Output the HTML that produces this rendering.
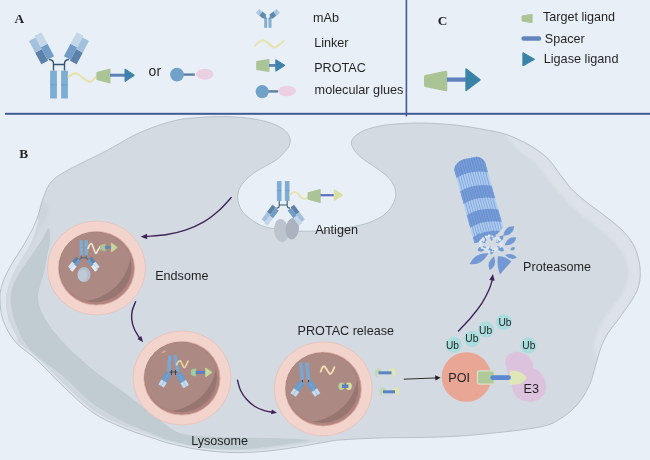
<!DOCTYPE html>
<html lang="en"><head><meta charset="utf-8"><title>Antibody-PROTAC conjugate mechanism</title>
<style>html,body{margin:0;padding:0;background:#e9eff6;}body{width:650px;height:460px;overflow:hidden;}svg{display:block;}</style></head>
<body>
<svg width="650" height="460" viewBox="0 0 650 460">
<defs>
<filter id="soft" x="-5%" y="-5%" width="110%" height="110%"><feGaussianBlur stdDeviation="0.45"/></filter>
<filter id="soft2" x="-10%" y="-10%" width="120%" height="120%"><feGaussianBlur stdDeviation="0.7"/></filter>
<filter id="blur3" x="-10%" y="-10%" width="120%" height="120%"><feGaussianBlur stdDeviation="2.2"/></filter>
<filter id="gsoft" filterUnits="userSpaceOnUse" x="-5" y="-5" width="660" height="470"><feGaussianBlur stdDeviation="0.38"/></filter>
</defs>
<rect width="650" height="460" fill="#e9eff6"/>
<g filter="url(#gsoft)">
<clipPath id="cellclip"><path d="M0.0 300.0 C-0.2 294.2 0.3 290.5 2.0 285.0 C3.7 279.5 6.0 274.3 10.0 267.0 C14.0 259.7 21.6 248.8 26.0 241.0 C30.4 233.2 33.6 227.3 36.5 220.0 C39.4 212.7 40.9 203.5 43.5 197.0 C46.1 190.5 47.6 185.7 52.0 181.0 C56.4 176.3 61.3 173.8 70.0 169.0 C78.7 164.2 92.5 158.0 104.0 152.0 C115.5 146.0 127.5 138.2 139.0 133.0 C150.5 127.8 163.2 123.6 173.0 121.0 C182.8 118.4 190.2 118.3 198.0 117.6 C205.8 116.9 213.0 116.6 220.0 116.6 C227.0 116.5 234.3 116.9 240.0 117.3 C245.7 117.7 249.7 118.3 254.0 119.0 C258.3 119.7 262.2 120.5 266.0 121.6 C269.8 122.7 273.8 123.9 277.0 125.4 C280.2 126.9 282.9 128.6 285.0 130.5 C287.1 132.4 288.8 135.0 289.6 137.0 C290.4 139.0 290.4 140.5 290.0 142.5 C289.6 144.5 289.6 146.0 287.2 148.9 C284.8 151.8 281.1 156.4 275.9 160.2 C270.7 164.0 261.6 167.5 256.0 171.5 C250.3 175.5 245.1 180.1 242.0 184.3 C238.9 188.6 237.7 192.6 237.7 197.0 C237.7 201.4 239.4 207.0 242.0 211.0 C244.6 215.0 249.5 218.4 253.3 221.0 C257.1 223.6 260.2 225.3 264.6 226.7 C269.1 228.1 274.3 228.8 280.0 229.6 C285.7 230.3 292.1 231.0 299.0 231.2 C305.9 231.4 314.9 231.1 321.4 230.8 C327.9 230.5 332.8 230.1 338.0 229.4 C343.2 228.7 347.3 227.9 352.6 226.7 C357.9 225.5 364.2 224.5 369.6 222.4 C375.0 220.3 381.0 217.3 385.0 214.0 C389.0 210.7 391.8 206.4 393.6 202.6 C395.4 198.8 396.3 195.3 395.6 191.3 C394.9 187.3 392.8 182.6 389.4 178.6 C386.0 174.6 379.9 170.8 375.2 167.3 C370.5 163.8 364.8 160.7 361.0 157.4 C357.2 154.1 354.0 150.6 352.6 147.5 C351.2 144.4 350.7 141.8 352.6 139.0 C354.5 136.2 358.4 132.8 364.0 130.5 C369.6 128.2 377.2 126.2 386.5 124.9 C395.8 123.7 408.6 123.0 420.0 123.0 C431.4 123.0 444.3 123.9 455.0 125.0 C465.7 126.1 475.7 128.0 484.0 129.5 C492.3 131.0 498.8 132.1 505.0 134.0 C511.2 135.9 516.5 138.6 521.0 140.7 C525.5 142.8 528.5 144.5 532.0 146.6 C535.5 148.7 538.9 151.1 541.8 153.4 C544.7 155.7 547.0 157.3 549.6 160.2 C552.2 163.1 554.8 167.2 557.4 170.7 C560.0 174.2 562.5 177.6 565.3 181.1 C568.1 184.6 570.0 187.7 574.0 191.5 C578.0 195.3 583.6 199.8 589.0 204.0 C594.4 208.2 600.7 212.3 606.5 217.0 C612.3 221.7 619.3 226.9 624.0 232.0 C628.7 237.1 632.1 241.6 634.8 247.4 C637.5 253.2 639.3 260.8 640.0 267.0 C640.7 273.2 640.3 279.4 639.0 284.8 C637.7 290.2 635.6 294.0 632.3 299.5 C629.0 305.0 623.4 312.4 619.4 318.0 C615.4 323.6 611.4 327.9 608.3 332.8 C605.2 337.7 603.1 342.0 601.0 347.5 C598.9 353.0 597.3 359.9 595.4 366.0 C593.5 372.1 592.6 378.2 589.8 384.4 C587.0 390.5 583.4 397.3 578.8 402.9 C574.2 408.4 568.5 413.7 562.0 417.7 C555.5 421.7 553.0 424.3 540.0 427.0 C527.0 429.7 500.7 432.3 484.0 434.0 C467.3 435.7 457.3 436.3 440.0 437.0 C422.7 437.7 396.7 437.5 380.0 438.0 C363.3 438.5 349.2 439.3 340.0 440.0 C330.8 440.7 332.3 441.1 324.6 442.3 C316.9 443.6 304.3 446.0 294.0 447.5 C283.7 449.0 273.3 450.7 263.0 451.5 C252.7 452.3 242.2 452.8 232.0 452.5 C221.8 452.2 211.7 451.4 201.5 450.0 C191.3 448.6 178.9 445.7 171.0 443.8 C163.1 441.9 162.0 441.2 154.0 438.5 C146.0 435.8 133.3 432.1 123.0 427.7 C112.7 423.3 102.2 419.2 92.0 412.0 C81.8 404.8 70.7 393.3 61.5 384.6 C52.3 375.9 44.8 367.2 37.0 360.0 C29.2 352.8 20.7 348.2 15.0 341.5 C9.3 334.8 5.5 326.9 3.0 320.0 C0.5 313.1 0.2 305.8 0.0 300.0Z"/></clipPath>
<path d="M0.0 300.0 C-0.2 294.2 0.3 290.5 2.0 285.0 C3.7 279.5 6.0 274.3 10.0 267.0 C14.0 259.7 21.6 248.8 26.0 241.0 C30.4 233.2 33.6 227.3 36.5 220.0 C39.4 212.7 40.9 203.5 43.5 197.0 C46.1 190.5 47.6 185.7 52.0 181.0 C56.4 176.3 61.3 173.8 70.0 169.0 C78.7 164.2 92.5 158.0 104.0 152.0 C115.5 146.0 127.5 138.2 139.0 133.0 C150.5 127.8 163.2 123.6 173.0 121.0 C182.8 118.4 190.2 118.3 198.0 117.6 C205.8 116.9 213.0 116.6 220.0 116.6 C227.0 116.5 234.3 116.9 240.0 117.3 C245.7 117.7 249.7 118.3 254.0 119.0 C258.3 119.7 262.2 120.5 266.0 121.6 C269.8 122.7 273.8 123.9 277.0 125.4 C280.2 126.9 282.9 128.6 285.0 130.5 C287.1 132.4 288.8 135.0 289.6 137.0 C290.4 139.0 290.4 140.5 290.0 142.5 C289.6 144.5 289.6 146.0 287.2 148.9 C284.8 151.8 281.1 156.4 275.9 160.2 C270.7 164.0 261.6 167.5 256.0 171.5 C250.3 175.5 245.1 180.1 242.0 184.3 C238.9 188.6 237.7 192.6 237.7 197.0 C237.7 201.4 239.4 207.0 242.0 211.0 C244.6 215.0 249.5 218.4 253.3 221.0 C257.1 223.6 260.2 225.3 264.6 226.7 C269.1 228.1 274.3 228.8 280.0 229.6 C285.7 230.3 292.1 231.0 299.0 231.2 C305.9 231.4 314.9 231.1 321.4 230.8 C327.9 230.5 332.8 230.1 338.0 229.4 C343.2 228.7 347.3 227.9 352.6 226.7 C357.9 225.5 364.2 224.5 369.6 222.4 C375.0 220.3 381.0 217.3 385.0 214.0 C389.0 210.7 391.8 206.4 393.6 202.6 C395.4 198.8 396.3 195.3 395.6 191.3 C394.9 187.3 392.8 182.6 389.4 178.6 C386.0 174.6 379.9 170.8 375.2 167.3 C370.5 163.8 364.8 160.7 361.0 157.4 C357.2 154.1 354.0 150.6 352.6 147.5 C351.2 144.4 350.7 141.8 352.6 139.0 C354.5 136.2 358.4 132.8 364.0 130.5 C369.6 128.2 377.2 126.2 386.5 124.9 C395.8 123.7 408.6 123.0 420.0 123.0 C431.4 123.0 444.3 123.9 455.0 125.0 C465.7 126.1 475.7 128.0 484.0 129.5 C492.3 131.0 498.8 132.1 505.0 134.0 C511.2 135.9 516.5 138.6 521.0 140.7 C525.5 142.8 528.5 144.5 532.0 146.6 C535.5 148.7 538.9 151.1 541.8 153.4 C544.7 155.7 547.0 157.3 549.6 160.2 C552.2 163.1 554.8 167.2 557.4 170.7 C560.0 174.2 562.5 177.6 565.3 181.1 C568.1 184.6 570.0 187.7 574.0 191.5 C578.0 195.3 583.6 199.8 589.0 204.0 C594.4 208.2 600.7 212.3 606.5 217.0 C612.3 221.7 619.3 226.9 624.0 232.0 C628.7 237.1 632.1 241.6 634.8 247.4 C637.5 253.2 639.3 260.8 640.0 267.0 C640.7 273.2 640.3 279.4 639.0 284.8 C637.7 290.2 635.6 294.0 632.3 299.5 C629.0 305.0 623.4 312.4 619.4 318.0 C615.4 323.6 611.4 327.9 608.3 332.8 C605.2 337.7 603.1 342.0 601.0 347.5 C598.9 353.0 597.3 359.9 595.4 366.0 C593.5 372.1 592.6 378.2 589.8 384.4 C587.0 390.5 583.4 397.3 578.8 402.9 C574.2 408.4 568.5 413.7 562.0 417.7 C555.5 421.7 553.0 424.3 540.0 427.0 C527.0 429.7 500.7 432.3 484.0 434.0 C467.3 435.7 457.3 436.3 440.0 437.0 C422.7 437.7 396.7 437.5 380.0 438.0 C363.3 438.5 349.2 439.3 340.0 440.0 C330.8 440.7 332.3 441.1 324.6 442.3 C316.9 443.6 304.3 446.0 294.0 447.5 C283.7 449.0 273.3 450.7 263.0 451.5 C252.7 452.3 242.2 452.8 232.0 452.5 C221.8 452.2 211.7 451.4 201.5 450.0 C191.3 448.6 178.9 445.7 171.0 443.8 C163.1 441.9 162.0 441.2 154.0 438.5 C146.0 435.8 133.3 432.1 123.0 427.7 C112.7 423.3 102.2 419.2 92.0 412.0 C81.8 404.8 70.7 393.3 61.5 384.6 C52.3 375.9 44.8 367.2 37.0 360.0 C29.2 352.8 20.7 348.2 15.0 341.5 C9.3 334.8 5.5 326.9 3.0 320.0 C0.5 313.1 0.2 305.8 0.0 300.0Z" fill="#d3dae1"/>
<g clip-path="url(#cellclip)">
<clipPath id="bandclip"><path d="M46.0 205.0 C53.7 210.8 41.3 223.8 36.0 235.0 C30.7 246.2 19.0 261.2 14.0 272.0 C9.0 282.8 6.3 291.7 6.0 300.0 C5.7 308.3 7.8 313.5 12.0 322.0 C16.2 330.5 22.8 341.8 31.0 351.0 C39.2 360.2 51.3 368.2 61.5 377.0 C71.7 385.8 81.8 396.4 92.0 404.0 C102.2 411.6 112.7 417.3 123.0 422.5 C133.3 427.7 141.2 431.4 154.0 435.0 C166.8 438.6 182.3 441.7 200.0 444.0 C217.7 446.3 241.3 449.5 260.0 449.0 C278.7 448.5 298.7 437.5 312.0 441.0 C325.3 444.5 393.7 465.2 340.0 470.0 C286.3 474.8 48.3 515.0 -10.0 470.0 C-68.3 425.0 -19.3 244.2 -10.0 200.0 C-0.7 155.8 38.3 199.2 46.0 205.0Z"/></clipPath>
<path d="M46.0 205.0 C53.7 210.8 41.3 223.8 36.0 235.0 C30.7 246.2 19.0 261.2 14.0 272.0 C9.0 282.8 6.3 291.7 6.0 300.0 C5.7 308.3 7.8 313.5 12.0 322.0 C16.2 330.5 22.8 341.8 31.0 351.0 C39.2 360.2 51.3 368.2 61.5 377.0 C71.7 385.8 81.8 396.4 92.0 404.0 C102.2 411.6 112.7 417.3 123.0 422.5 C133.3 427.7 141.2 431.4 154.0 435.0 C166.8 438.6 182.3 441.7 200.0 444.0 C217.7 446.3 241.3 449.5 260.0 449.0 C278.7 448.5 298.7 437.5 312.0 441.0 C325.3 444.5 393.7 465.2 340.0 470.0 C286.3 474.8 48.3 515.0 -10.0 470.0 C-68.3 425.0 -19.3 244.2 -10.0 200.0 C-0.7 155.8 38.3 199.2 46.0 205.0Z" fill="#cdd5dc" filter="url(#blur3)"/>
<clipPath id="rimB"><path d="M-5 338 H30 V470 H-5 Z M30 300 H400 V470 H30 Z"/></clipPath>
<g clip-path="url(#bandclip)"><path d="M38.0 217.0 C37.8 216.3 38.5 216.0 36.5 220.0 C34.5 224.0 30.4 233.2 26.0 241.0 C21.6 248.8 14.0 259.7 10.0 267.0 C6.0 274.3 4.0 279.5 2.0 285.0 C0.0 290.5 -1.8 294.2 -2.0 300.0 C-2.2 305.8 -1.5 312.8 1.0 320.0 C3.5 327.2 10.2 339.8 13.0 343.0 C15.8 346.2 18.2 343.0 17.5 339.0 C16.8 335.0 10.4 325.5 8.5 319.0 C6.6 312.5 6.0 305.5 6.0 300.0 C6.0 294.5 6.8 291.2 8.5 286.0 C10.2 280.8 12.3 276.0 16.0 269.0 C19.7 262.0 26.9 251.5 30.5 244.0 C34.1 236.5 36.2 228.5 37.5 224.0 C38.8 219.5 38.2 217.7 38.0 217.0Z" fill="#dfe5ec" filter="url(#soft2)"/><g clip-path="url(#rimB)"><path d="M0.0 300.0 C-0.2 294.2 0.3 290.5 2.0 285.0 C3.7 279.5 6.0 274.3 10.0 267.0 C14.0 259.7 21.6 248.8 26.0 241.0 C30.4 233.2 33.6 227.3 36.5 220.0 C39.4 212.7 40.9 203.5 43.5 197.0 C46.1 190.5 47.6 185.7 52.0 181.0 C56.4 176.3 61.3 173.8 70.0 169.0 C78.7 164.2 92.5 158.0 104.0 152.0 C115.5 146.0 127.5 138.2 139.0 133.0 C150.5 127.8 163.2 123.6 173.0 121.0 C182.8 118.4 190.2 118.3 198.0 117.6 C205.8 116.9 213.0 116.6 220.0 116.6 C227.0 116.5 234.3 116.9 240.0 117.3 C245.7 117.7 249.7 118.3 254.0 119.0 C258.3 119.7 262.2 120.5 266.0 121.6 C269.8 122.7 273.8 123.9 277.0 125.4 C280.2 126.9 282.9 128.6 285.0 130.5 C287.1 132.4 288.8 135.0 289.6 137.0 C290.4 139.0 290.4 140.5 290.0 142.5 C289.6 144.5 289.6 146.0 287.2 148.9 C284.8 151.8 281.1 156.4 275.9 160.2 C270.7 164.0 261.6 167.5 256.0 171.5 C250.3 175.5 245.1 180.1 242.0 184.3 C238.9 188.6 237.7 192.6 237.7 197.0 C237.7 201.4 239.4 207.0 242.0 211.0 C244.6 215.0 249.5 218.4 253.3 221.0 C257.1 223.6 260.2 225.3 264.6 226.7 C269.1 228.1 274.3 228.8 280.0 229.6 C285.7 230.3 292.1 231.0 299.0 231.2 C305.9 231.4 314.9 231.1 321.4 230.8 C327.9 230.5 332.8 230.1 338.0 229.4 C343.2 228.7 347.3 227.9 352.6 226.7 C357.9 225.5 364.2 224.5 369.6 222.4 C375.0 220.3 381.0 217.3 385.0 214.0 C389.0 210.7 391.8 206.4 393.6 202.6 C395.4 198.8 396.3 195.3 395.6 191.3 C394.9 187.3 392.8 182.6 389.4 178.6 C386.0 174.6 379.9 170.8 375.2 167.3 C370.5 163.8 364.8 160.7 361.0 157.4 C357.2 154.1 354.0 150.6 352.6 147.5 C351.2 144.4 350.7 141.8 352.6 139.0 C354.5 136.2 358.4 132.8 364.0 130.5 C369.6 128.2 377.2 126.2 386.5 124.9 C395.8 123.7 408.6 123.0 420.0 123.0 C431.4 123.0 444.3 123.9 455.0 125.0 C465.7 126.1 475.7 128.0 484.0 129.5 C492.3 131.0 498.8 132.1 505.0 134.0 C511.2 135.9 516.5 138.6 521.0 140.7 C525.5 142.8 528.5 144.5 532.0 146.6 C535.5 148.7 538.9 151.1 541.8 153.4 C544.7 155.7 547.0 157.3 549.6 160.2 C552.2 163.1 554.8 167.2 557.4 170.7 C560.0 174.2 562.5 177.6 565.3 181.1 C568.1 184.6 570.0 187.7 574.0 191.5 C578.0 195.3 583.6 199.8 589.0 204.0 C594.4 208.2 600.7 212.3 606.5 217.0 C612.3 221.7 619.3 226.9 624.0 232.0 C628.7 237.1 632.1 241.6 634.8 247.4 C637.5 253.2 639.3 260.8 640.0 267.0 C640.7 273.2 640.3 279.4 639.0 284.8 C637.7 290.2 635.6 294.0 632.3 299.5 C629.0 305.0 623.4 312.4 619.4 318.0 C615.4 323.6 611.4 327.9 608.3 332.8 C605.2 337.7 603.1 342.0 601.0 347.5 C598.9 353.0 597.3 359.9 595.4 366.0 C593.5 372.1 592.6 378.2 589.8 384.4 C587.0 390.5 583.4 397.3 578.8 402.9 C574.2 408.4 568.5 413.7 562.0 417.7 C555.5 421.7 553.0 424.3 540.0 427.0 C527.0 429.7 500.7 432.3 484.0 434.0 C467.3 435.7 457.3 436.3 440.0 437.0 C422.7 437.7 396.7 437.5 380.0 438.0 C363.3 438.5 349.2 439.3 340.0 440.0 C330.8 440.7 332.3 441.1 324.6 442.3 C316.9 443.6 304.3 446.0 294.0 447.5 C283.7 449.0 273.3 450.7 263.0 451.5 C252.7 452.3 242.2 452.8 232.0 452.5 C221.8 452.2 211.7 451.4 201.5 450.0 C191.3 448.6 178.9 445.7 171.0 443.8 C163.1 441.9 162.0 441.2 154.0 438.5 C146.0 435.8 133.3 432.1 123.0 427.7 C112.7 423.3 102.2 419.2 92.0 412.0 C81.8 404.8 70.7 393.3 61.5 384.6 C52.3 375.9 44.8 367.2 37.0 360.0 C29.2 352.8 20.7 348.2 15.0 341.5 C9.3 334.8 5.5 326.9 3.0 320.0 C0.5 313.1 0.2 305.8 0.0 300.0Z" fill="none" stroke="#dce2e9" stroke-width="4.4" filter="url(#soft)"/></g></g>
<path d="M48.5 228.0 C47.5 227.3 46.0 232.7 44.0 236.0 C42.0 239.3 41.0 241.2 36.5 248.0 C32.0 254.8 21.3 268.7 17.0 277.0 C12.7 285.3 10.7 290.2 10.5 298.0 C10.3 305.8 12.3 315.2 15.7 324.0 C19.1 332.8 23.4 342.5 31.0 351.0 C38.6 359.5 51.3 366.3 61.5 375.0 C71.7 383.7 81.8 395.2 92.0 403.0 C102.2 410.8 112.7 416.2 123.0 421.5 C133.3 426.8 146.0 431.3 154.0 434.5 C162.0 437.7 163.1 438.6 171.0 440.8 C178.9 443.0 191.3 446.1 201.5 447.5 C211.7 448.9 221.8 449.4 232.0 449.4 C242.2 449.4 252.7 448.6 263.0 447.5 C273.3 446.4 286.4 444.2 294.0 443.0 C301.6 441.8 311.1 440.8 308.5 440.0 C305.9 439.2 288.6 438.7 278.5 438.3 C268.4 437.9 257.9 437.9 247.7 437.7 C237.4 437.5 227.3 437.5 217.0 437.0 C206.7 436.5 193.7 436.0 186.0 434.6 C178.3 433.2 176.3 431.7 171.0 428.5 C165.7 425.3 162.0 421.7 154.0 415.5 C146.0 409.3 133.3 399.2 123.0 391.5 C112.7 383.8 102.0 377.2 92.0 369.0 C82.0 360.8 70.7 350.2 63.0 342.0 C55.3 333.8 50.2 327.3 46.0 320.0 C41.8 312.7 38.3 306.0 38.0 298.0 C37.7 290.0 42.0 281.7 44.0 272.0 C46.0 262.3 49.2 247.3 50.0 240.0 C50.8 232.7 49.5 228.7 48.5 228.0Z" fill="#c0cbd2" filter="url(#soft)"/>
<filter id="blur2" x="-10%" y="-10%" width="120%" height="120%"><feGaussianBlur stdDeviation="1.4"/></filter>
<path d="M505.0 134.0 C505.8 132.8 516.5 138.6 521.0 140.7 C525.5 142.8 528.5 144.5 532.0 146.6 C535.5 148.7 538.9 151.1 541.8 153.4 C544.7 155.7 547.0 157.3 549.6 160.2 C552.2 163.1 554.8 167.2 557.4 170.7 C560.0 174.2 562.5 177.6 565.3 181.1 C568.1 184.6 570.0 187.7 574.0 191.5 C578.0 195.3 583.6 199.8 589.0 204.0 C594.4 208.2 600.7 212.3 606.5 217.0 C612.3 221.7 619.3 226.9 624.0 232.0 C628.7 237.1 632.1 241.6 634.8 247.4 C637.5 253.2 639.3 260.8 640.0 267.0 C640.7 273.2 640.3 279.4 639.0 284.8 C637.7 290.2 635.6 294.0 632.3 299.5 C629.0 305.0 623.4 312.4 619.4 318.0 C615.4 323.6 611.4 327.9 608.3 332.8 C605.2 337.7 602.9 343.0 601.0 347.5 C599.1 352.0 598.2 360.4 597.0 360.0 C595.8 359.6 593.7 350.3 594.0 345.0 C594.3 339.7 596.5 333.5 599.0 328.0 C601.5 322.5 605.3 317.5 609.0 312.0 C612.7 306.5 618.0 300.0 621.0 295.0 C624.0 290.0 625.8 286.5 627.0 282.0 C628.2 277.5 628.7 272.7 628.0 268.0 C627.3 263.3 625.5 258.5 623.0 254.0 C620.5 249.5 617.3 245.5 613.0 241.0 C608.7 236.5 602.5 231.5 597.0 227.0 C591.5 222.5 585.2 218.3 580.0 214.0 C574.8 209.7 570.7 206.0 566.0 201.0 C561.3 196.0 557.0 190.2 552.0 184.0 C547.0 177.8 542.0 170.0 536.0 164.0 C530.0 158.0 521.2 153.0 516.0 148.0 C510.8 143.0 504.2 135.2 505.0 134.0Z" fill="#dde3e9" filter="url(#blur2)" opacity="0.85"/>
</g>
<path d="M0.0 300.0 C-0.2 294.2 0.3 290.5 2.0 285.0 C3.7 279.5 6.0 274.3 10.0 267.0 C14.0 259.7 21.6 248.8 26.0 241.0 C30.4 233.2 33.6 227.3 36.5 220.0 C39.4 212.7 40.9 203.5 43.5 197.0 C46.1 190.5 47.6 185.7 52.0 181.0 C56.4 176.3 61.3 173.8 70.0 169.0 C78.7 164.2 92.5 158.0 104.0 152.0 C115.5 146.0 127.5 138.2 139.0 133.0 C150.5 127.8 163.2 123.6 173.0 121.0 C182.8 118.4 190.2 118.3 198.0 117.6 C205.8 116.9 213.0 116.6 220.0 116.6 C227.0 116.5 234.3 116.9 240.0 117.3 C245.7 117.7 249.7 118.3 254.0 119.0 C258.3 119.7 262.2 120.5 266.0 121.6 C269.8 122.7 273.8 123.9 277.0 125.4 C280.2 126.9 282.9 128.6 285.0 130.5 C287.1 132.4 288.8 135.0 289.6 137.0 C290.4 139.0 290.4 140.5 290.0 142.5 C289.6 144.5 289.6 146.0 287.2 148.9 C284.8 151.8 281.1 156.4 275.9 160.2 C270.7 164.0 261.6 167.5 256.0 171.5 C250.3 175.5 245.1 180.1 242.0 184.3 C238.9 188.6 237.7 192.6 237.7 197.0 C237.7 201.4 239.4 207.0 242.0 211.0 C244.6 215.0 249.5 218.4 253.3 221.0 C257.1 223.6 260.2 225.3 264.6 226.7 C269.1 228.1 274.3 228.8 280.0 229.6 C285.7 230.3 292.1 231.0 299.0 231.2 C305.9 231.4 314.9 231.1 321.4 230.8 C327.9 230.5 332.8 230.1 338.0 229.4 C343.2 228.7 347.3 227.9 352.6 226.7 C357.9 225.5 364.2 224.5 369.6 222.4 C375.0 220.3 381.0 217.3 385.0 214.0 C389.0 210.7 391.8 206.4 393.6 202.6 C395.4 198.8 396.3 195.3 395.6 191.3 C394.9 187.3 392.8 182.6 389.4 178.6 C386.0 174.6 379.9 170.8 375.2 167.3 C370.5 163.8 364.8 160.7 361.0 157.4 C357.2 154.1 354.0 150.6 352.6 147.5 C351.2 144.4 350.7 141.8 352.6 139.0 C354.5 136.2 358.4 132.8 364.0 130.5 C369.6 128.2 377.2 126.2 386.5 124.9 C395.8 123.7 408.6 123.0 420.0 123.0 C431.4 123.0 444.3 123.9 455.0 125.0 C465.7 126.1 475.7 128.0 484.0 129.5 C492.3 131.0 498.8 132.1 505.0 134.0 C511.2 135.9 516.5 138.6 521.0 140.7 C525.5 142.8 528.5 144.5 532.0 146.6 C535.5 148.7 538.9 151.1 541.8 153.4 C544.7 155.7 547.0 157.3 549.6 160.2 C552.2 163.1 554.8 167.2 557.4 170.7 C560.0 174.2 562.5 177.6 565.3 181.1 C568.1 184.6 570.0 187.7 574.0 191.5 C578.0 195.3 583.6 199.8 589.0 204.0 C594.4 208.2 600.7 212.3 606.5 217.0 C612.3 221.7 619.3 226.9 624.0 232.0 C628.7 237.1 632.1 241.6 634.8 247.4 C637.5 253.2 639.3 260.8 640.0 267.0 C640.7 273.2 640.3 279.4 639.0 284.8 C637.7 290.2 635.6 294.0 632.3 299.5 C629.0 305.0 623.4 312.4 619.4 318.0 C615.4 323.6 611.4 327.9 608.3 332.8 C605.2 337.7 603.1 342.0 601.0 347.5 C598.9 353.0 597.3 359.9 595.4 366.0 C593.5 372.1 592.6 378.2 589.8 384.4 C587.0 390.5 583.4 397.3 578.8 402.9 C574.2 408.4 568.5 413.7 562.0 417.7 C555.5 421.7 553.0 424.3 540.0 427.0 C527.0 429.7 500.7 432.3 484.0 434.0 C467.3 435.7 457.3 436.3 440.0 437.0 C422.7 437.7 396.7 437.5 380.0 438.0 C363.3 438.5 349.2 439.3 340.0 440.0 C330.8 440.7 332.3 441.1 324.6 442.3 C316.9 443.6 304.3 446.0 294.0 447.5 C283.7 449.0 273.3 450.7 263.0 451.5 C252.7 452.3 242.2 452.8 232.0 452.5 C221.8 452.2 211.7 451.4 201.5 450.0 C191.3 448.6 178.9 445.7 171.0 443.8 C163.1 441.9 162.0 441.2 154.0 438.5 C146.0 435.8 133.3 432.1 123.0 427.7 C112.7 423.3 102.2 419.2 92.0 412.0 C81.8 404.8 70.7 393.3 61.5 384.6 C52.3 375.9 44.8 367.2 37.0 360.0 C29.2 352.8 20.7 348.2 15.0 341.5 C9.3 334.8 5.5 326.9 3.0 320.0 C0.5 313.1 0.2 305.8 0.0 300.0Z" fill="none" stroke="#aeb7c0" stroke-width="0.8"/>
<rect x="5" y="112.8" width="645" height="2.0" fill="#3f5a93"/>
<rect x="405.6" y="0" width="1.6" height="116.4" fill="#3f5a93"/>
<g transform="translate(59.0 70.6) scale(1.000 1.000)" opacity="1.0"><rect x="-8.9" y="0" width="6.8" height="27.9" fill="#7dadd3"/><rect x="-8.9" y="13.9" width="6.8" height="0.8" fill="#6c9cc4"/><rect x="2.1" y="0" width="6.8" height="27.9" fill="#7dadd3"/><rect x="2.1" y="13.9" width="6.8" height="0.8" fill="#6c9cc4"/><path d="M-5.5 0 V-6.8 Q-5.5 -10.9 -10.0 -11.1 M5.5 0 V-6.8 Q5.5 -10.9 10.0 -11.1 M-5.5 -6.1 H5.5" fill="none" stroke="#35566e" stroke-width="1.4"/><g transform="translate(-11.5 -10.8) rotate(-28.0)"><rect x="-7.5" y="-12.1" width="7.5" height="13.2" fill="#5b82aa"/><rect x="0.0" y="-14.1" width="7.5" height="14.1" fill="#6f9cc7"/><rect x="-7.5" y="-25.3" width="7.5" height="13.2" fill="#a3c0dc"/><rect x="0.0" y="-27.3" width="7.5" height="13.2" fill="#c4d7e9"/></g><g transform="translate(11.5 -10.8) rotate(28.0)"><rect x="0.0" y="-12.1" width="7.5" height="13.2" fill="#5b82aa"/><rect x="-7.5" y="-14.1" width="7.5" height="14.1" fill="#6f9cc7"/><rect x="0.0" y="-25.3" width="7.5" height="13.2" fill="#a3c0dc"/><rect x="-7.5" y="-27.3" width="7.5" height="13.2" fill="#c4d7e9"/></g></g>
<path d="M68.6 77.0 C69.3 76.5 71.6 74.6 73.0 74.0 C74.4 73.4 75.3 72.9 77.0 73.6 C78.7 74.3 80.9 76.6 83.0 78.0 C85.1 79.4 87.7 81.6 89.5 81.8 C91.3 82.0 92.8 80.0 94.0 79.0 C95.2 78.0 96.5 76.3 97.0 75.8" fill="none" stroke="#e7e3b0" stroke-width="2.2" stroke-linecap="round"/>
<path d="M97.0 72.6 L109.9 69.1 L109.9 82.9 L97.0 79.4 Z" fill="#abc496" stroke="#abc496" stroke-width="1.2" stroke-linejoin="round"/>
<path d="M110.0 75.2 H126.0" stroke="#5a84b8" stroke-width="3.0" stroke-linecap="butt" fill="none"/>
<path d="M125.0 69.0 L134.5 75.2 L125.0 81.5 Z" fill="#3c82ab" stroke="#3c82ab" stroke-width="1.0" stroke-linejoin="round"/>
<path d="M180.0 74.6 H194.8" stroke="#5c7fa6" stroke-width="2.4" stroke-linecap="butt" fill="none"/>
<circle cx="177" cy="74.6" r="6.9" fill="#6fa1c9"/>
<ellipse cx="204.8" cy="74.1" rx="8.8" ry="5.4" fill="#ebd0e2"/>
<g filter="url(#soft)"><rect x="264.2" y="17.8" width="3.0" height="10.0" fill="#86adcf"/><rect x="268.5" y="17.8" width="3.0" height="10.0" fill="#86adcf"/><path d="M265.7 18.8 Q265.5 17 263.6 15.8 M270 18.8 Q270.2 17 272.1 15.8" stroke="#6a93b5" stroke-width="2.2" fill="none"/><g transform="translate(261.2 13.9) rotate(-52)"><rect x="-2.6" y="-0.6" width="5.2" height="5.2" fill="#5f8aad"/><rect x="-2.6" y="-4.8" width="5.2" height="4.4" fill="#a9c8e1"/></g><g transform="translate(274.5 13.9) rotate(52)"><rect x="-2.6" y="-0.6" width="5.2" height="5.2" fill="#5f8aad"/><rect x="-2.6" y="-4.8" width="5.2" height="4.4" fill="#a9c8e1"/></g></g>
<path d="M255.0 46.0 C255.7 45.3 257.5 42.9 259.0 42.0 C260.5 41.1 262.3 40.2 264.0 40.5 C265.7 40.8 267.3 42.8 269.0 44.0 C270.7 45.2 272.3 47.3 274.0 47.5 C275.7 47.7 277.4 46.1 279.0 45.0 C280.6 43.9 282.8 41.7 283.5 41.0" fill="none" stroke="#e7e3b0" stroke-width="2.2" stroke-linecap="round"/>
<path d="M256.8 61.5 L268.9 59.5 L268.9 71.3 L256.8 69.3 Z" fill="#abc496" stroke="#abc496" stroke-width="1.2" stroke-linejoin="round"/>
<path d="M269.0 65.4 H277.0" stroke="#5a84b8" stroke-width="2.8" stroke-linecap="butt" fill="none"/>
<path d="M275.8 59.7 L285.0 65.4 L275.8 71.2 Z" fill="#3c82ab" stroke="#3c82ab" stroke-width="1.0" stroke-linejoin="round"/>
<path d="M266.0 91.4 H278.0" stroke="#5c7fa6" stroke-width="2.4" stroke-linecap="butt" fill="none"/>
<circle cx="262.2" cy="91.6" r="6.6" fill="#6fa1c9"/>
<ellipse cx="287" cy="91" rx="9" ry="5.2" fill="#ebd0e2"/>
<path d="M425.6 76.6 L445.7 72.3 L445.7 89.7 L425.6 85.4 Z" fill="#abc496" stroke="#abc496" stroke-width="3.2" stroke-linejoin="round"/>
<path d="M447.0 79.6 H467.0" stroke="#5f82bd" stroke-width="4.3" stroke-linecap="butt" fill="none"/>
<path d="M466.1 69.0 L480.0 79.8 L466.1 90.5 Z" fill="#3a82a8" stroke="#3a82a8" stroke-width="1.5" stroke-linejoin="round"/>
<path d="M522.0 16.0 L532.1 14.2 L532.1 22.8 L522.0 21.0 Z" fill="#abc496" stroke="#abc496" stroke-width="1.0" stroke-linejoin="round"/>
<path d="M523.6 38.5 H539.0" stroke="#6285be" stroke-width="4.5" stroke-linecap="round" fill="none"/>
<path d="M522.9 52.6 L534.6 59.3 L522.9 66.0 Z" fill="#3a82a8" stroke="#3a82a8" stroke-width="1.0" stroke-linejoin="round"/>
<ellipse cx="281.4" cy="230.6" rx="7.3" ry="11.6" fill="#bcc4ce" transform="rotate(-6 281.4 230.6)"/>
<ellipse cx="292.4" cy="228.6" rx="6.6" ry="10.9" fill="#aab3be" transform="rotate(8 292.4 228.6)"/>
<g transform="translate(283.2 201.0) scale(0.750 -0.750)" opacity="1.0"><rect x="-8.4" y="0" width="6.2" height="26.6" fill="#7dadd3"/><rect x="-8.4" y="13.3" width="6.2" height="0.8" fill="#6c9cc4"/><rect x="2.2" y="0" width="6.2" height="26.6" fill="#7dadd3"/><rect x="2.2" y="13.3" width="6.2" height="0.8" fill="#6c9cc4"/><path d="M-5.3 0 V-6.0 Q-5.3 -9.6 -9.0 -9.5 M5.3 0 V-6.0 Q5.3 -9.6 9.0 -9.5 M-5.3 -5.4 H5.3" fill="none" stroke="#35566e" stroke-width="1.4"/><g transform="translate(-10.5 -9.2) rotate(-36.0)"><rect x="-5.7" y="-11.1" width="5.7" height="12.2" fill="#5b82aa"/><rect x="0.0" y="-13.1" width="5.7" height="13.1" fill="#6f9cc7"/><rect x="-5.7" y="-23.3" width="5.7" height="12.2" fill="#a3c0dc"/><rect x="0.0" y="-25.3" width="5.7" height="12.2" fill="#c4d7e9"/></g><g transform="translate(10.5 -9.2) rotate(36.0)"><rect x="0.0" y="-11.1" width="5.7" height="12.2" fill="#5b82aa"/><rect x="-5.7" y="-13.1" width="5.7" height="13.1" fill="#6f9cc7"/><rect x="0.0" y="-23.3" width="5.7" height="12.2" fill="#a3c0dc"/><rect x="-5.7" y="-25.3" width="5.7" height="12.2" fill="#c4d7e9"/></g></g>
<path d="M290.0 194.6 C290.5 194.2 291.9 192.8 293.0 192.5 C294.1 192.2 295.3 191.9 296.5 192.5 C297.7 193.1 298.8 194.9 300.0 196.0 C301.2 197.1 302.4 198.7 303.5 199.0 C304.6 199.3 305.7 198.4 306.5 198.0 C307.3 197.6 308.2 196.6 308.5 196.3" fill="none" stroke="#e7e3b0" stroke-width="1.9" stroke-linecap="round"/>
<path d="M308.2 192.8 L320.1 189.6 L320.1 202.4 L308.2 199.2 Z" fill="#abc496" stroke="#abc496" stroke-width="1.2" stroke-linejoin="round"/>
<path d="M320.5 195.2 H334.0" stroke="#5a6fc0" stroke-width="2.2" stroke-linecap="butt" fill="none"/>
<path d="M334.2 189.5 L343.0 195.0 L334.2 200.5 Z" fill="#d9dda2" stroke="#d9dda2" stroke-width="1.0" stroke-linejoin="round"/>
<ellipse cx="96.5" cy="268.0" rx="49" ry="47" fill="#f2d4cc" stroke="#e6bdb3" stroke-width="0.7"/><clipPath id="e96"><ellipse cx="95.3" cy="267.1" rx="36.3" ry="35.1"/></clipPath><ellipse cx="96.5" cy="268.3" rx="38" ry="36.8" fill="#b3847f" stroke="#d5a79f" stroke-width="0.8"/><ellipse cx="95.3" cy="267.1" rx="36.3" ry="35.1" fill="#ad8983"/><g clip-path="url(#e96)"><rect x="51.5" y="223.0" width="90" height="90" fill="#977672"/><ellipse cx="78.9" cy="251.2" rx="52" ry="50" fill="#ad8983" filter="url(#soft2)"/></g>
<ellipse cx="84" cy="274.5" rx="6.6" ry="7.6" fill="#b3bfce"/>
<ellipse cx="82.5" cy="275.5" rx="4.6" ry="6" fill="#bfcad7"/>
<g transform="translate(83.8 255.6) scale(0.550 -0.550)" opacity="1.0"><rect x="-7.5" y="0" width="6.0" height="28.0" fill="#7dadd3"/><rect x="-7.5" y="14.0" width="6.0" height="0.8" fill="#6c9cc4"/><rect x="1.5" y="0" width="6.0" height="28.0" fill="#7dadd3"/><rect x="1.5" y="14.0" width="6.0" height="0.8" fill="#6c9cc4"/><path d="M-4.5 0 V-4.5 Q-4.5 -7.2 -8.5 -6.5 M4.5 0 V-4.5 Q4.5 -7.2 8.5 -6.5 M-4.5 -4.0 H4.5" fill="none" stroke="#35566e" stroke-width="1.4"/><g transform="translate(-10.0 -6.2) rotate(-38.0)"><rect x="-6.0" y="-10.8" width="6.0" height="12.0" fill="#5b82aa"/><rect x="0.0" y="-12.8" width="6.0" height="12.8" fill="#6f9cc7"/><rect x="-6.0" y="-22.8" width="6.0" height="12.0" fill="#d2e3f2"/><rect x="0.0" y="-24.8" width="6.0" height="12.0" fill="#e0ecf7"/></g><g transform="translate(10.0 -6.2) rotate(38.0)"><rect x="0.0" y="-10.8" width="6.0" height="12.0" fill="#5b82aa"/><rect x="-6.0" y="-12.8" width="6.0" height="12.8" fill="#6f9cc7"/><rect x="0.0" y="-22.8" width="6.0" height="12.0" fill="#d2e3f2"/><rect x="-6.0" y="-24.8" width="6.0" height="12.0" fill="#e0ecf7"/></g></g>
<path d="M88.0 248.6 C88.2 248.0 88.9 245.8 89.5 245.0 C90.1 244.2 90.8 243.0 91.5 243.5 C92.2 244.0 92.8 246.3 93.5 248.0 C94.2 249.7 95.0 253.2 95.8 253.5 C96.5 253.8 97.2 251.2 98.0 250.0 C98.8 248.8 99.9 246.9 100.3 246.3" fill="none" stroke="#f3ecd0" stroke-width="1.5" stroke-linecap="round"/>
<path d="M100.4 245.4 L105.1 243.9 L105.1 251.1 L100.4 249.6 Z" fill="#abc496" stroke="#abc496" stroke-width="0.8" stroke-linejoin="round"/>
<path d="M105.0 247.5 H111.0" stroke="#5d86c4" stroke-width="2.6" stroke-linecap="butt" fill="none"/>
<path d="M111.4 242.9 L117.2 247.5 L111.4 252.1 Z" fill="#c9d79a" stroke="#c9d79a" stroke-width="0.8" stroke-linejoin="round"/>
<ellipse cx="182.0" cy="378.0" rx="49" ry="47" fill="#f2d4cc" stroke="#e6bdb3" stroke-width="0.7"/><clipPath id="e182"><ellipse cx="180.8" cy="377.1" rx="36.3" ry="35.1"/></clipPath><ellipse cx="182.0" cy="378.3" rx="38" ry="36.8" fill="#b3847f" stroke="#d5a79f" stroke-width="0.8"/><ellipse cx="180.8" cy="377.1" rx="36.3" ry="35.1" fill="#ad8983"/><g clip-path="url(#e182)"><rect x="137.0" y="333.0" width="90" height="90" fill="#977672"/><ellipse cx="164.4" cy="361.2" rx="52" ry="50" fill="#ad8983" filter="url(#soft2)"/></g>
<ellipse cx="323.3" cy="388.8" rx="49" ry="47" fill="#f2d4cc" stroke="#e6bdb3" stroke-width="0.7"/><clipPath id="e323"><ellipse cx="322.1" cy="387.9" rx="36.3" ry="35.1"/></clipPath><ellipse cx="323.3" cy="389.1" rx="38" ry="36.8" fill="#b3847f" stroke="#d5a79f" stroke-width="0.8"/><ellipse cx="322.1" cy="387.9" rx="36.3" ry="35.1" fill="#ad8983"/><g clip-path="url(#e323)"><rect x="278.3" y="343.8" width="90" height="90" fill="#977672"/><ellipse cx="305.7" cy="372.0" rx="52" ry="50" fill="#ad8983" filter="url(#soft2)"/></g>
<path d="M169.8 355.7 C169.7 357.1 169.4 361.2 169.3 364.0 C169.2 366.8 169.1 371.0 169.0 372.4" fill="none" stroke="#78a7d4" stroke-width="3.4" stroke-linecap="butt" stroke-linejoin="round"/>
<path d="M175.0 355.0 C175.2 356.5 176.0 361.1 176.5 364.0 C177.0 366.9 177.8 371.0 178.0 372.4" fill="none" stroke="#78a7d4" stroke-width="3.4" stroke-linecap="butt" stroke-linejoin="round"/>
<path d="M169.5 372 H177.5 M171.5 370 V375 M175.5 370 V375" stroke="#2f3f55" stroke-width="0.9" fill="none"/>
<path d="M168.6 373.5 L164.0 381.2" stroke="#6b9bc9" stroke-width="6.4" fill="none"/><path d="M164.0 381.2 L161.2 386.0" stroke="#c4dcf0" stroke-width="6.4" fill="none"/><path d="M168.6 373.5 L161.2 386.0" stroke="#86b0d8" stroke-width="0.7" fill="none" opacity="0.8"/>
<path d="M178.4 373.5 L183.2 381.6" stroke="#6b9bc9" stroke-width="6.4" fill="none"/><path d="M183.2 381.6 L186.2 386.6" stroke="#c4dcf0" stroke-width="6.4" fill="none"/><path d="M178.4 373.5 L186.2 386.6" stroke="#86b0d8" stroke-width="0.7" fill="none" opacity="0.8"/>
<path d="M162.6 352.4 L165 351.2" stroke="#e6a98b" stroke-width="1.6" stroke-linecap="round"/>
<path d="M176.6 364.8 C176.9 364.3 177.7 362.4 178.3 361.8 C178.9 361.2 179.7 360.6 180.4 361.0 C181.1 361.4 181.7 363.4 182.3 364.5 C182.9 365.6 183.5 367.7 184.2 367.8 C184.8 367.9 185.6 366.1 186.2 365.0 C186.8 363.9 187.7 361.7 188.0 361.0" fill="none" stroke="#ecd9a0" stroke-width="1.6" stroke-linecap="round"/>
<path d="M191.4 370.0 L195.6 368.8 L195.6 376.0 L191.4 374.8 Z" fill="#9fcf9c" stroke="#9fcf9c" stroke-width="0.8" stroke-linejoin="round"/>
<path d="M195.7 372.4 H205.8" stroke="#5d80c8" stroke-width="3.0" stroke-linecap="butt" fill="none"/>
<path d="M205.7 368.0 L212.0 372.4 L205.7 376.8 Z" fill="#c4dc98" stroke="#c4dc98" stroke-width="0.8" stroke-linejoin="round"/>
<path d="M300.8 362.6 C300.9 364.0 301.1 368.1 301.4 371.0 C301.7 373.9 302.2 378.5 302.4 380.0" fill="none" stroke="#78a7d4" stroke-width="3.7" stroke-linecap="butt" stroke-linejoin="round"/>
<path d="M306.8 362.6 C306.9 364.0 307.3 368.1 307.6 371.0 C307.9 373.9 308.6 378.5 308.8 380.0" fill="none" stroke="#78a7d4" stroke-width="3.7" stroke-linecap="butt" stroke-linejoin="round"/>
<path d="M302.4 380 V384 M308.6 380 V384" stroke="#2f3f55" stroke-width="1.1" fill="none"/>
<path d="M302.0 382.0 L296.5 390.1" stroke="#6b9bc9" stroke-width="6.6" fill="none"/><path d="M296.5 390.1 L293.2 395.0" stroke="#c4dcf0" stroke-width="6.6" fill="none"/><path d="M302.0 382.0 L293.2 395.0" stroke="#86b0d8" stroke-width="0.7" fill="none" opacity="0.8"/>
<path d="M309.0 382.0 L314.3 390.1" stroke="#6b9bc9" stroke-width="6.6" fill="none"/><path d="M314.3 390.1 L317.6 395.0" stroke="#c4dcf0" stroke-width="6.6" fill="none"/><path d="M309.0 382.0 L317.6 395.0" stroke="#86b0d8" stroke-width="0.7" fill="none" opacity="0.8"/>
<path d="M320.7 371.7 C321.0 371.0 321.7 368.5 322.3 367.6 C322.9 366.7 323.7 366.0 324.5 366.4 C325.3 366.8 326.1 368.7 327.0 370.0 C327.9 371.3 329.1 373.8 330.0 374.0 C330.9 374.2 331.8 372.6 332.5 371.5 C333.2 370.4 334.1 367.9 334.4 367.2" fill="none" stroke="#f1dcb2" stroke-width="1.9" stroke-linecap="round"/>
<ellipse cx="341.5" cy="386.2" rx="3" ry="3.7" fill="#b7d39a"/>
<ellipse cx="348.8" cy="386.2" rx="3" ry="3.7" fill="#dbe39b"/>
<rect x="342" y="384.4" width="6.4" height="3.6" fill="#5a7fc0"/>
<ellipse cx="378.2" cy="372.8" rx="3.6" ry="4.4" fill="#c3d9b4"/><ellipse cx="392.3" cy="372.8" rx="3.8" ry="4.6" fill="#dfe5b3"/><ellipse cx="379.8" cy="375.4" rx="2.6" ry="2.0" fill="#d3dae1"/><ellipse cx="390.2" cy="375.7" rx="2.8" ry="2.2" fill="#d3dae1"/><path d="M378.5 372.8 H391.5" stroke="#5a83c2" stroke-width="3.0" stroke-linecap="butt" fill="none"/>
<ellipse cx="382.7" cy="391.8" rx="3.6" ry="4.4" fill="#c3d9b4"/><ellipse cx="395.8" cy="391.8" rx="3.8" ry="4.6" fill="#dfe5b3"/><ellipse cx="384.3" cy="394.4" rx="2.6" ry="2.0" fill="#d3dae1"/><ellipse cx="393.7" cy="394.7" rx="2.8" ry="2.2" fill="#d3dae1"/><path d="M383.0 391.8 H395.0" stroke="#5a83c2" stroke-width="3.0" stroke-linecap="butt" fill="none"/>
<path d="M403.8 379.2 L437 377.9" stroke="#1c1c1c" stroke-width="0.9" fill="none"/>
<path d="M440.5 377.7 L435.2 375.3 L435.4 380.4 Z" fill="#1c1c1c"/>
<circle cx="466.5" cy="377" r="24.8" fill="#eaa695"/>
<path d="M506 366 C503 356 511 351 519 352 C528 353 533 360 533 368 C541 371 547 379 546 388 C545 398 536 403 527 401.5 C517 400 512 393 512 386 C508 380 508 372 506 366 Z" fill="#dcc2dd"/>
<rect x="477.5" y="370.8" width="16.8" height="13.4" rx="1.5" fill="#b0c99a" stroke="#d9e0cb" stroke-width="1.2"/>
<path d="M509.6 370.6 L518 371.2 Q524 373.5 526.8 377.8 Q524 382.5 518 384.3 L509.6 385 Z" fill="#e0e7b6"/>
<path d="M492.6 377.6 H508.6" stroke="#5b86cf" stroke-width="4.6" stroke-linecap="round" fill="none"/>
<circle cx="453.8" cy="344.8" r="8" fill="#abdcde" filter="url(#soft)"/>
<circle cx="472.2" cy="339.0" r="8" fill="#abdcde" filter="url(#soft)"/>
<circle cx="486.0" cy="329.6" r="8" fill="#abdcde" filter="url(#soft)"/>
<circle cx="503.8" cy="322.2" r="8" fill="#abdcde" filter="url(#soft)"/>
<circle cx="528.4" cy="345.6" r="8" fill="#abdcde" filter="url(#soft)"/>
<path d="M231.2 197.6 C229.1 199.8 223.2 206.8 218.6 210.8 C214.0 214.9 209.3 218.7 203.8 221.9 C198.3 225.1 191.5 228.1 185.4 230.2 C179.3 232.3 173.4 233.5 167.0 234.5 C160.6 235.5 150.3 236.1 147.0 236.4" fill="none" stroke="#41245a" stroke-width="1.4" stroke-linecap="round"/><path d="M140.7 236.7 L147.0 233.8 L147.2 239.2 Z" fill="#41245a"/>
<path d="M135.6 301.6 C135.1 303.1 133.0 307.6 132.3 310.5 C131.7 313.4 131.4 315.9 131.7 318.9 C132.0 321.9 132.8 325.4 134.1 328.5 C135.4 331.6 138.4 336.1 139.3 337.6" fill="none" stroke="#41245a" stroke-width="1.4" stroke-linecap="round"/><path d="M143.1 342.2 L137.4 339.1 L141.3 336.0 Z" fill="#41245a"/>
<path d="M237.5 380.2 C238.0 381.9 239.0 387.1 240.5 390.3 C242.0 393.5 244.1 396.6 246.5 399.3 C248.9 402.0 251.9 404.6 254.9 406.5 C257.9 408.4 261.5 409.7 264.4 410.6 C267.2 411.5 270.7 411.9 272.0 412.1" fill="none" stroke="#41245a" stroke-width="1.4" stroke-linecap="round"/><path d="M277.0 412.8 L271.1 414.2 L271.8 409.6 Z" fill="#41245a"/>
<path d="M458.5 331.0 C460.6 328.7 467.3 321.8 471.2 317.2 C475.1 312.6 478.8 307.9 481.8 303.3 C484.8 298.7 487.4 293.3 489.1 289.5 C490.8 285.7 491.6 282.0 492.1 280.5" fill="none" stroke="#41245a" stroke-width="1.4" stroke-linecap="round"/><path d="M492.9 274.0 L494.7 280.7 L489.3 280.0 Z" fill="#41245a"/>
<g transform="translate(469.65 166) rotate(-15.5)"><clipPath id="pc"><path d="M-16.2 -0.5 Q-13.2 -7.5 -4 -8.2 L 8 -7.2 Q13.2 -6.5 16.2 0.5 L16.2 68 L 8 73 L 0 71 L -8 76 L-16.2 76 Z"/></clipPath><g clip-path="url(#pc)"><rect x="-16.2" y="-12" width="32.4" height="100" fill="#afcdf0"/><path d="M-16.2 -15.5 Q0 -20.0 16.2 -12.5 L16.2 11.0 Q0 3.5 -16.2 8.0 Z" fill="#789ed8"/><path d="M-16.2 22.0 Q0 17.5 16.2 25.0 L16.2 37.9 Q0 30.4 -16.2 34.9 Z" fill="#789ed8"/><path d="M-16.2 46.7 Q0 42.2 16.2 49.7 L16.2 62.7 Q0 55.2 -16.2 59.7 Z" fill="#789ed8"/><path d="M-16.2 69.5 Q0 65.0 16.2 72.5 L16.2 93.5 Q0 86.0 -16.2 90.5 Z" fill="#789ed8"/><path d="M-13.7 -12 V90" stroke="#4f78c2" stroke-width="0.8" opacity="0.5"/><path d="M-11.2 -12 V90" stroke="#4f78c2" stroke-width="0.8" opacity="0.5"/><path d="M-8.7 -12 V90" stroke="#4f78c2" stroke-width="0.8" opacity="0.5"/><path d="M-6.2 -12 V90" stroke="#4f78c2" stroke-width="0.8" opacity="0.5"/><path d="M-3.7 -12 V90" stroke="#4f78c2" stroke-width="0.8" opacity="0.5"/><path d="M-1.2 -12 V90" stroke="#4f78c2" stroke-width="0.8" opacity="0.5"/><path d="M1.2 -12 V90" stroke="#4f78c2" stroke-width="0.8" opacity="0.5"/><path d="M3.7 -12 V90" stroke="#4f78c2" stroke-width="0.8" opacity="0.5"/><path d="M6.2 -12 V90" stroke="#4f78c2" stroke-width="0.8" opacity="0.5"/><path d="M8.7 -12 V90" stroke="#4f78c2" stroke-width="0.8" opacity="0.5"/><path d="M11.2 -12 V90" stroke="#4f78c2" stroke-width="0.8" opacity="0.5"/><path d="M13.7 -12 V90" stroke="#4f78c2" stroke-width="0.8" opacity="0.5"/></g></g><path d="M503.2 235.8 Q513.5 235.3 514.2 226.2 Q505.0 225.7 503.2 235.8 Z" fill="#7399d4"/><path d="M504.6 245.2 Q514.4 246.2 516.4 237.6 Q507.7 235.8 504.6 245.2 Z" fill="#7399d4"/><path d="M510.2 250.0 Q514.4 251.4 515.0 247.4 Q511.3 245.8 510.2 250.0 Z" fill="#7399d4"/><path d="M505.0 255.0 Q510.4 261.0 516.8 257.8 Q512.6 252.1 505.0 255.0 Z" fill="#7399d4"/><path d="M497.8 256.2 Q505 255.8 511.4 261.6 Q505.5 268 500 274.6 Q496.6 266 497.8 256.2 Z" fill="#7399d4"/><path d="M494.2 256.2 Q486.0 262.0 489.6 270.2 Q497.4 265.8 494.2 256.2 Z" fill="#7399d4"/><path d="M488.6 253.2 Q474.4 252.5 469.6 264.0 Q481.9 265.7 488.6 253.2 Z" fill="#7399d4"/><path d="M487.0 243.5 Q486.5 233.5 477.5 233.5 Q477.1 242.5 487.0 243.5 Z" fill="#7399d4"/><path d="M486.0 247.0 Q479.3 243.8 477.6 250.5 Q483.5 254.0 486.0 247.0 Z" fill="#7399d4"/><path d="M491.6 241.0 Q498.7 236.1 493.8 230.0 Q486.9 233.8 491.6 241.0 Z" fill="#7399d4"/><path d="M496.0 243.0 Q503.7 242.4 503.6 235.5 Q496.7 235.3 496.0 243.0 Z" fill="#7399d4"/><path d="M490.6 246.0 Q485.9 251.6 492.0 254.5 Q496.8 249.8 490.6 246.0 Z" fill="#7399d4"/><path d="M497.0 246.5 Q498.4 252.8 504.0 251.0 Q503.3 245.2 497.0 246.5 Z" fill="#7399d4"/><circle cx="501.0" cy="243.8" r="1.2" fill="#dfeaf8"/><circle cx="501.7" cy="245.7" r="1.0" fill="#dfeaf8"/><circle cx="500.3" cy="247.1" r="1.0" fill="#dfeaf8"/><circle cx="497.3" cy="248.5" r="1.2" fill="#dfeaf8"/><circle cx="495.8" cy="249.6" r="1.2" fill="#dfeaf8"/><circle cx="492.4" cy="251.5" r="1.1" fill="#dfeaf8"/><circle cx="489.2" cy="251.6" r="1.3" fill="#dfeaf8"/><circle cx="485.7" cy="249.8" r="1.0" fill="#dfeaf8"/><circle cx="484.2" cy="248.8" r="1.1" fill="#dfeaf8"/><circle cx="482.1" cy="247.7" r="1.4" fill="#dfeaf8"/><circle cx="480.4" cy="245.8" r="1.3" fill="#dfeaf8"/><circle cx="480.9" cy="243.8" r="1.0" fill="#dfeaf8"/><circle cx="480.2" cy="241.9" r="1.3" fill="#dfeaf8"/><circle cx="481.5" cy="240.2" r="1.3" fill="#dfeaf8"/><circle cx="483.1" cy="238.8" r="1.4" fill="#dfeaf8"/><circle cx="486.1" cy="236.8" r="1.3" fill="#dfeaf8"/><circle cx="489.3" cy="236.0" r="1.4" fill="#dfeaf8"/><circle cx="492.4" cy="236.4" r="1.1" fill="#dfeaf8"/><circle cx="495.4" cy="238.2" r="1.1" fill="#dfeaf8"/><circle cx="498.6" cy="238.4" r="1.3" fill="#dfeaf8"/><circle cx="499.8" cy="239.8" r="1.4" fill="#dfeaf8"/><circle cx="501.8" cy="241.8" r="1.3" fill="#dfeaf8"/><circle cx="497.0" cy="248.4" r="1.0" fill="#dce8f7"/><circle cx="493.6" cy="238.7" r="1.2" fill="#dce8f7"/><circle cx="493.3" cy="248.9" r="1.2" fill="#dce8f7"/><circle cx="486.4" cy="242.2" r="1.1" fill="#dce8f7"/><circle cx="481.4" cy="243.1" r="0.9" fill="#dce8f7"/><circle cx="483.2" cy="238.6" r="1.2" fill="#dce8f7"/><circle cx="483.5" cy="240.7" r="1.0" fill="#dce8f7"/><circle cx="497.6" cy="238.9" r="1.0" fill="#dce8f7"/><circle cx="491.4" cy="247.7" r="1.2" fill="#dce8f7"/><circle cx="497.4" cy="241.1" r="1.0" fill="#dce8f7"/><circle cx="487.8" cy="247.7" r="1.3" fill="#dce8f7"/><circle cx="483.9" cy="239.9" r="0.9" fill="#dce8f7"/>
</g>
<g opacity="0.96">
<text x="14.4" y="22.6" font-family='"Liberation Serif", "Times New Roman", serif' font-size="13.3" font-weight="bold" text-anchor="start" fill="#1a1a1a">A</text>
<text x="148.6" y="75.8" font-family='"Liberation Sans", Arial, sans-serif' font-size="14.0" font-weight="normal" text-anchor="start" fill="#1a1a1a">or</text>
<text x="313.0" y="22.2" font-family='"Liberation Sans", Arial, sans-serif' font-size="12.6" font-weight="normal" text-anchor="start" fill="#1a1a1a">mAb</text>
<text x="314.2" y="46.8" font-family='"Liberation Sans", Arial, sans-serif' font-size="12.6" font-weight="normal" text-anchor="start" fill="#1a1a1a">Linker</text>
<text x="314.2" y="71.6" font-family='"Liberation Sans", Arial, sans-serif' font-size="12.6" font-weight="normal" text-anchor="start" fill="#1a1a1a">PROTAC</text>
<text x="314.6" y="94.1" font-family='"Liberation Sans", Arial, sans-serif' font-size="12.7" font-weight="normal" text-anchor="start" fill="#1a1a1a">molecular glues</text>
<text x="437.8" y="25.0" font-family='"Liberation Serif", "Times New Roman", serif' font-size="13.3" font-weight="bold" text-anchor="start" fill="#1a1a1a">C</text>
<text x="543.0" y="20.7" font-family='"Liberation Sans", Arial, sans-serif' font-size="12.6" font-weight="normal" text-anchor="start" fill="#1a1a1a">Target ligand</text>
<text x="544.8" y="42.9" font-family='"Liberation Sans", Arial, sans-serif' font-size="12.6" font-weight="normal" text-anchor="start" fill="#1a1a1a">Spacer</text>
<text x="543.7" y="63.3" font-family='"Liberation Sans", Arial, sans-serif' font-size="12.7" font-weight="normal" text-anchor="start" fill="#1a1a1a">Ligase ligand</text>
<text x="19.3" y="157.6" font-family='"Liberation Serif", "Times New Roman", serif' font-size="13.3" font-weight="bold" text-anchor="start" fill="#1a1a1a">B</text>
<text x="315.2" y="233.7" font-family='"Liberation Sans", Arial, sans-serif' font-size="12.6" font-weight="normal" text-anchor="start" fill="#1a1a1a">Antigen</text>
<text x="448.3" y="382.2" font-family='"Liberation Sans", Arial, sans-serif' font-size="12.6" font-weight="normal" text-anchor="start" fill="#1a1a1a">POI</text>
<text x="523.5" y="392.7" font-family='"Liberation Sans", Arial, sans-serif' font-size="12.6" font-weight="normal" text-anchor="start" fill="#1a1a1a">E3</text>
<text x="452.5" y="348.5" font-family='"Liberation Sans", Arial, sans-serif' font-size="10.2" font-weight="normal" text-anchor="middle" fill="#1a1a1a">Ub</text>
<text x="471.8" y="342.4" font-family='"Liberation Sans", Arial, sans-serif' font-size="10.2" font-weight="normal" text-anchor="middle" fill="#1a1a1a">Ub</text>
<text x="485.6" y="334.4" font-family='"Liberation Sans", Arial, sans-serif' font-size="10.2" font-weight="normal" text-anchor="middle" fill="#1a1a1a">Ub</text>
<text x="505.0" y="325.6" font-family='"Liberation Sans", Arial, sans-serif' font-size="10.2" font-weight="normal" text-anchor="middle" fill="#1a1a1a">Ub</text>
<text x="528.8" y="349.2" font-family='"Liberation Sans", Arial, sans-serif' font-size="10.2" font-weight="normal" text-anchor="middle" fill="#1a1a1a">Ub</text>
<text x="155.2" y="279.8" font-family='"Liberation Sans", Arial, sans-serif' font-size="12.6" font-weight="normal" text-anchor="start" fill="#1a1a1a">Endsome</text>
<text x="191.2" y="444.9" font-family='"Liberation Sans", Arial, sans-serif' font-size="12.6" font-weight="normal" text-anchor="start" fill="#1a1a1a">Lysosome</text>
<text x="297.6" y="334.8" font-family='"Liberation Sans", Arial, sans-serif' font-size="12.6" font-weight="normal" text-anchor="start" fill="#1a1a1a">PROTAC release</text>
<text x="523.1" y="270.5" font-family='"Liberation Sans", Arial, sans-serif' font-size="12.6" font-weight="normal" text-anchor="start" fill="#1a1a1a">Proteasome</text>
</g>
</svg>
</body></html>
